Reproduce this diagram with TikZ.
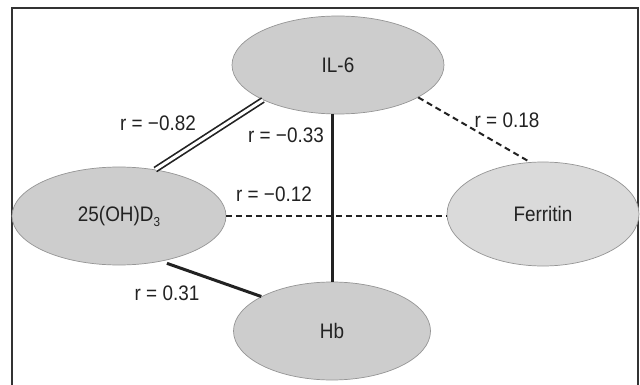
\documentclass[tikz,border=0pt]{standalone}
\usepackage{fontspec}
\setmainfont{Liberation Sans}[FakeStretch=0.9]
\usetikzlibrary{shapes.geometric}
\definecolor{ovalfill}{HTML}{CDCDCD}
\definecolor{ovalfilllight}{HTML}{DADADA}
\definecolor{ovaledge}{HTML}{959595}
\definecolor{framecol}{HTML}{333333}
\definecolor{ink}{HTML}{222222}
\tikzset{
  oval/.style={ellipse, draw=ovaledge, line width=0.7pt, fill=ovalfill,
               inner sep=0pt, minimum width=212pt, minimum height=98pt,
               font=\fontsize{21}{23}\selectfont, text=ink},
  corrlabel/.style={font=\fontsize{21}{23}\selectfont, text=ink, inner sep=0pt},
  strong/.style={line width=3pt, ink},
  twin/.style={double=white, double distance=3pt, line width=1.7pt, ink},
  weak/.style={line width=2pt, ink, dash pattern=on 6pt off 4pt},
}
\newcommand{\lowsub}[1]{\raisebox{-0.45ex}{\fontsize{13}{14}\selectfont #1}}
\begin{document}
\begin{tikzpicture}[x=1pt, y=-1pt]
  \useasboundingbox (0,0) rectangle (640,385);
  \fill[white] (0,0) rectangle (640,385);
  % open-bottomed frame
  \draw[framecol, line width=1.5pt] (12,385) -- (12,8) -- (638,8) -- (638,385);

  % variables
  \node[oval] (il6) at (338,65) {IL-6};
  \node[oval, minimum width=214pt] (vit) at (119,216) {25(OH)D\lowsub{3}};
  \node[oval, fill=ovalfilllight, minimum width=192pt, minimum height=104pt] (fer) at (543,214) {Ferritin};
  \node[oval, minimum width=197pt] (hb) at (332,331) {Hb};

  % correlations
  \draw[twin] (vit.52) -- (il6.-155);
  \draw[strong] (hb.north) -- (hb.north |- il6.south);
  \draw[strong, shorten <=6pt] (vit.-47) -- (hb.154);
  \draw[weak] (vit.east) -- (vit.east -| fer.west);
  \draw[weak] (il6.-22) -- (fer.104);

  % coefficients
  \node[corrlabel] (l82) at (158,123) {r = −0.82};
  \node[corrlabel] (l33) at (286,135) {r = −0.33};
  \node[corrlabel] (l12) at (274,194) {r = −0.12};
  \node[corrlabel] (l18) at (507,120) {r = 0.18};
  \node[corrlabel] (l31) at (167,293) {r = 0.31};
\end{tikzpicture}
\end{document}
